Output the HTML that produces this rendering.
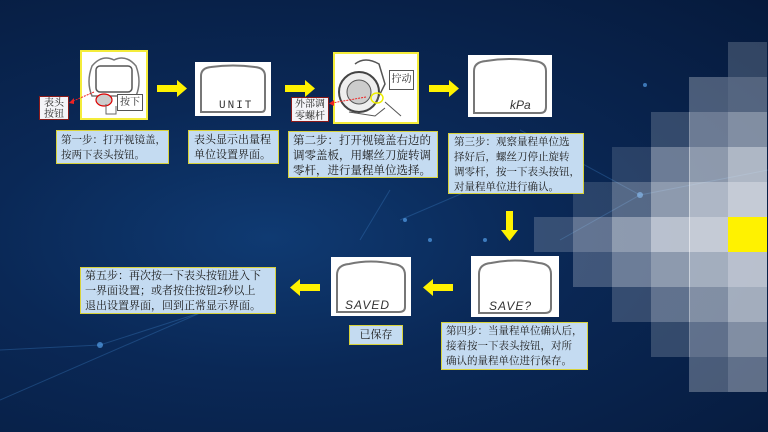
<!DOCTYPE html>
<html><head><meta charset="utf-8"><style>
html,body{margin:0;padding:0}
body{width:768px;height:432px;position:relative;overflow:hidden;background:radial-gradient(ellipse at 35% 55%,#0f3a72 0%,#0a2856 40%,#061a3c 100%);font-family:"Liberation Serif","Noto Serif CJK SC","Noto Sans CJK SC",serif;}
.a{position:absolute}
.box{position:absolute;background:#c4dbf1;border:1px solid #d8d23a;color:#1a1a1a;font-size:11px;line-height:15px;padding:2px 5px;box-sizing:border-box;white-space:nowrap;overflow:hidden}
.img{position:absolute;background:#fff;border:2px solid #f4ec3a;box-sizing:border-box}
.cell{position:absolute;width:39px;height:35px;background:#e6e9ef}
.lbl{position:absolute;background:#fff;border:1px solid #555;font-size:10px;text-align:center;color:#222;box-sizing:border-box}
</style></head><body>
<svg class="a" style="left:0;top:0" width="768" height="432">
<g stroke="#3d7fc4" stroke-opacity="0.35" stroke-width="1" fill="none">
<line x1="0" y1="400" x2="230" y2="300"/><line x1="0" y1="350" x2="100" y2="345"/>
<line x1="100" y1="345" x2="240" y2="300"/><line x1="640" y1="195" x2="520" y2="130"/>
<line x1="640" y1="195" x2="768" y2="170"/><line x1="640" y1="195" x2="560" y2="240"/>
<line x1="400" y1="220" x2="470" y2="190"/><line x1="390" y1="190" x2="360" y2="240"/>
</g>
<g fill="#5fb0ff" fill-opacity="0.6"><circle cx="640" cy="195" r="3"/><circle cx="100" cy="345" r="3"/><circle cx="430" cy="240" r="2"/><circle cx="485" cy="240" r="2"/><circle cx="645" cy="85" r="2"/><circle cx="405" cy="220" r="2"/></g>
</svg>
<!-- pixel grid -->
<div class="cell" style="left:728px;top:42px;opacity:.2"></div>
<div class="cell" style="left:689px;top:77px;opacity:.3"></div><div class="cell" style="left:728px;top:77px;opacity:.35"></div>
<div class="cell" style="left:651px;top:112px;opacity:.2"></div><div class="cell" style="left:689px;top:112px;opacity:.45"></div><div class="cell" style="left:728px;top:112px;opacity:.55"></div>
<div class="cell" style="left:612px;top:147px;opacity:.15"></div><div class="cell" style="left:651px;top:147px;opacity:.45"></div><div class="cell" style="left:689px;top:147px;opacity:.6"></div><div class="cell" style="left:728px;top:147px;opacity:.75"></div>
<div class="cell" style="left:573px;top:182px;opacity:.15"></div><div class="cell" style="left:612px;top:182px;opacity:.35"></div><div class="cell" style="left:651px;top:182px;opacity:.6"></div><div class="cell" style="left:689px;top:182px;opacity:.75"></div><div class="cell" style="left:728px;top:182px;opacity:.85"></div>
<div class="cell" style="left:534px;top:217px;opacity:.2"></div><div class="cell" style="left:573px;top:217px;opacity:.4"></div><div class="cell" style="left:612px;top:217px;opacity:.6"></div><div class="cell" style="left:651px;top:217px;opacity:.8"></div><div class="cell" style="left:689px;top:217px;opacity:.85"></div><div class="cell" style="left:728px;top:217px;background:#fff200"></div>
<div class="cell" style="left:573px;top:252px;opacity:.25"></div><div class="cell" style="left:612px;top:252px;opacity:.45"></div><div class="cell" style="left:651px;top:252px;opacity:.6"></div><div class="cell" style="left:689px;top:252px;opacity:.7"></div><div class="cell" style="left:728px;top:252px;opacity:.8"></div>
<div class="cell" style="left:612px;top:287px;opacity:.2"></div><div class="cell" style="left:651px;top:287px;opacity:.4"></div><div class="cell" style="left:689px;top:287px;opacity:.55"></div><div class="cell" style="left:728px;top:287px;opacity:.7"></div>
<div class="cell" style="left:651px;top:322px;opacity:.2"></div><div class="cell" style="left:689px;top:322px;opacity:.4"></div><div class="cell" style="left:728px;top:322px;opacity:.55"></div>
<div class="cell" style="left:689px;top:357px;opacity:.3"></div><div class="cell" style="left:728px;top:357px;opacity:.4"></div>

<!-- image 1 -->
<div class="img" style="left:80px;top:50px;width:68px;height:70px">
<svg width="64" height="66"><path d="M10 14 Q20 2 32 8 Q44 2 54 14 Q60 30 54 44 L10 44 Q4 30 10 14Z" fill="none" stroke="#777" stroke-width="1.5"/><rect x="14" y="14" width="36" height="26" rx="4" fill="#fff" stroke="#555" stroke-width="1.5"/><ellipse cx="22" cy="48" rx="8" ry="6" fill="#ccc" stroke="#d00" stroke-width="1.2"/><path d="M24 52 L24 62 L34 62 L34 54" fill="none" stroke="#666"/></svg>
</div>
<div class="lbl" style="left:117px;top:94px;width:26px;height:17px;line-height:15px">按下</div>
<div class="lbl" style="left:39px;top:96px;width:30px;height:24px;line-height:11px;background:#f4f4f8;border-color:#8b1a1a;padding-top:1px">表头<br>按钮</div>
<svg class="a" style="left:68px;top:88px" width="30" height="20"><line x1="26" y1="4" x2="3" y2="14" stroke="#e22" stroke-dasharray="2 1"/><path d="M1 15 L6 10 L6 16Z" fill="#e22"/></svg>

<!-- arrows -->
<svg class="a" style="left:0;top:0" width="768" height="432"><g fill="#fff200">
<path d="M157 85 H177 V80 L187 88.5 L177 97 V92 H157Z"/>
<path d="M285 85 H305 V80 L315 88.5 L305 97 V92 H285Z"/>
<path d="M429 85 H449 V80 L459 88.5 L449 97 V92 H429Z"/>
<path d="M506 211 H513 V230 H518 L509.5 241 L501 230 H506Z"/>
<path d="M453 284 H433 V279 L423 287.5 L433 296 V291 H453Z"/>
<path d="M320 284 H300 V279 L290 287.5 L300 296 V291 H320Z"/>
</g></svg>

<!-- LCD screens -->
<div class="img" style="left:195px;top:62px;width:76px;height:54px;border-color:#fff">
<svg width="72" height="50"><path d="M4 48 V12 Q4 4 14 3 Q36 0 58 3 Q68 4 68 12 V44 Q68 48 64 48Z" fill="none" stroke="#777" stroke-width="2"/><text x="22" y="44" font-family="Liberation Mono,monospace" font-size="11" fill="#333" letter-spacing="2">UNIT</text></svg></div>
<div class="img" style="left:468px;top:55px;width:84px;height:62px;border-color:#fff">
<svg width="80" height="58"><path d="M4 56 V14 Q4 5 16 4 Q40 0 64 4 Q76 5 76 14 V50 Q76 56 70 56Z" fill="none" stroke="#777" stroke-width="2"/><text x="40" y="52" font-family="Liberation Sans,sans-serif" font-style="italic" font-size="12" fill="#333">kPa</text></svg></div>
<div class="img" style="left:471px;top:256px;width:88px;height:61px;border-color:#fff">
<svg width="84" height="57"><path d="M6 55 V16 Q6 6 18 5 Q42 0 66 5 Q78 6 78 16 V50 Q78 55 72 55Z" fill="none" stroke="#777" stroke-width="2"/><text x="16" y="52" font-family="Liberation Sans,sans-serif" font-style="italic" font-size="12" fill="#333" letter-spacing="1">SAVE?</text></svg></div>
<div class="img" style="left:331px;top:257px;width:80px;height:59px;border-color:#fff">
<svg width="76" height="55"><path d="M4 53 V16 Q4 6 16 5 Q38 0 60 5 Q72 6 72 16 V48 Q72 53 66 53Z" fill="none" stroke="#777" stroke-width="2"/><text x="12" y="50" font-family="Liberation Sans,sans-serif" font-style="italic" font-size="12" fill="#333" letter-spacing="1">SAVED</text></svg></div>

<!-- image 3 -->
<div class="img" style="left:333px;top:52px;width:86px;height:72px">
<svg width="82" height="68"><circle cx="24" cy="38" r="20" fill="#eee" stroke="#444" stroke-width="2"/><circle cx="24" cy="38" r="12" fill="#ccc" stroke="#555"/><path d="M20 10 Q30 2 44 10 L50 30 L40 50" fill="none" stroke="#555" stroke-width="1.5"/><ellipse cx="42" cy="44" rx="6" ry="5" fill="none" stroke="#ee0" stroke-width="1.5"/><line x1="50" y1="48" x2="66" y2="62" stroke="#555"/><path d="M14 58 L40 62 L50 54" fill="none" stroke="#555"/></svg></div>
<div class="lbl" style="left:389px;top:70px;width:25px;height:20px;line-height:18px">拧动</div>
<div class="lbl" style="left:291px;top:97px;width:38px;height:25px;line-height:11.5px;background:#f4f4f8;border-color:#8b1a1a;padding-top:1px">外部调<br>零螺杆</div>
<svg class="a" style="left:328px;top:95px" width="40" height="12"><line x1="38" y1="2" x2="4" y2="8" stroke="#e22" stroke-dasharray="2 1"/><path d="M1 8.5 L6 5 L6 11Z" fill="#e22"/></svg>

<!-- text boxes -->
<div class="box" style="left:56px;top:130px;width:113px;height:34px;font-size:10.5px;padding:2px 4px">第一步：打开视镜盖，<br>按两下表头按钮。</div>
<div class="box" style="left:188px;top:130px;width:91px;height:34px">表头显示出量程<br>单位设置界面。</div>
<div class="box" style="left:288px;top:131px;width:150px;height:47px;font-size:11.5px;padding:2px 4px">第二步：打开视镜盖右边的<br>调零盖板，用螺丝刀旋转调<br>零杆，进行量程单位选择。</div>
<div class="box" style="left:448px;top:133px;width:136px;height:61px;font-size:10.5px;padding:1px 5px">第三步：观察量程单位选<br>择好后，螺丝刀停止旋转<br>调零杆，按一下表头按钮，<br>对量程单位进行确认。</div>
<div class="box" style="left:441px;top:322px;width:147px;height:48px;font-size:10.5px;padding:1px 4px">第四步：当量程单位确认后，<br>接着按一下表头按钮，对所<br>确认的量程单位进行保存。</div>
<div class="box" style="left:349px;top:325px;width:54px;height:20px;text-align:center;line-height:15px">已保存</div>
<div class="box" style="left:80px;top:267px;width:196px;height:47px;font-size:11px;padding:1px 4px">第五步：再次按一下表头按钮进入下<br>一界面设置；或者按住按钮2秒以上<br>退出设置界面，回到正常显示界面。</div>
</body></html>
